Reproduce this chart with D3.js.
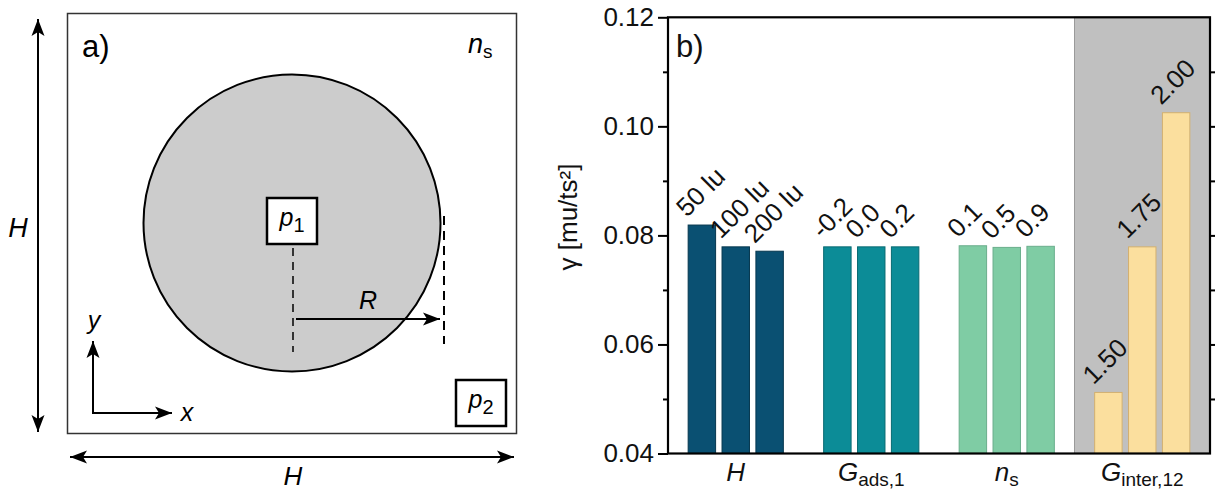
<!DOCTYPE html>
<html>
<head>
<meta charset="utf-8">
<script src="https://cdn.jsdelivr.net/npm/d3@7"></script>
<style>
  body { margin: 0; background: #fff; }
  svg { display: block; font-family: "Liberation Sans", Arial, sans-serif; }
</style>
</head>
<body>
<svg id="fig" width="1222" height="491"></svg>
<script>
// ---- data: surface tension γ for each parameter sweep ----
const groupNames = ["H", "G", "n", "G"];
const groupSubs = ["", "ads,1", "s", "inter,12"];
const hLabels = ["50 lu", "100 lu", "200 lu"];
const hValues = [0.0819, 0.0779, 0.0771];
const gadsLabels = ["-0.2", "0.0", "0.2"];
const gadsValues = [0.0779, 0.0779, 0.0779];
const nsLabels = ["0.1", "0.5", "0.9"];
const nsValues = [0.0781, 0.0778, 0.0780];
const ginterLabels = ["1.50", "1.75", "2.00"];
const ginterValues = [0.0512, 0.0779, 0.1025];
const groupColors = ["#0a5072", "#0c8c97", "#7fcca4", "#fbdf9e"];
const groupStrokes = ["#06374f", "#086a72", "#6aae8c", "#d2b070"];
const yTickLabels = [0.04, 0.06, 0.08, 0.10, 0.12];
const yMinorTicks = [0.05, 0.07, 0.09, 0.11];
const yRightTicks = [0.05, 0.06, 0.07, 0.08, 0.09, 0.10, 0.11];

const svg = d3.select("#fig");

// ================= panel a: simulation box schematic =================
const A = svg.append("g");
const defs = svg.append("defs");
defs.append("marker")
  .attr("id", "head").attr("viewBox", "-18 -8 20 16")
  .attr("refX", 0).attr("refY", 0)
  .attr("markerWidth", 20).attr("markerHeight", 16)
  .attr("markerUnits", "userSpaceOnUse").attr("orient", "auto-start-reverse")
  .append("path").attr("d", "M0,0 L-17,-6.5 L-13,0 L-17,6.5 Z").attr("fill", "#000");

// box frame
A.append("rect").attr("x", 67.5).attr("y", 13.5).attr("width", 449).attr("height", 420)
  .attr("fill", "none").attr("stroke", "#333").attr("stroke-width", 1.5);

// droplet
A.append("circle").attr("cx", 292).attr("cy", 223).attr("r", 148.5)
  .attr("fill", "#cccccc").attr("stroke", "#000").attr("stroke-width", 2);

// dashed guides
A.append("line").attr("x1", 293).attr("x2", 293).attr("y1", 248).attr("y2", 352)
  .attr("stroke", "#000").attr("stroke-width", 1.5).attr("stroke-dasharray", "8,6");
A.append("line").attr("x1", 444).attr("x2", 444).attr("y1", 216).attr("y2", 344)
  .attr("stroke", "#000").attr("stroke-width", 2).attr("stroke-dasharray", "9,6");

// radius arrow
A.append("line").attr("x1", 296).attr("x2", 440).attr("y1", 319).attr("y2", 319)
  .attr("stroke", "#000").attr("stroke-width", 2).attr("marker-end", "url(#head)");
A.append("text").attr("x", 368).attr("y", 309).attr("text-anchor", "middle")
  .attr("font-size", 25).attr("font-style", "italic").text("R");

// pressure probes
function probe(px, py, sub) {
  A.append("rect").attr("x", px).attr("y", py).attr("width", 50).attr("height", 46)
    .attr("fill", "#fff").attr("stroke", "#000").attr("stroke-width", 2.5);
  const t = A.append("text").attr("x", px + 25).attr("y", py + 28)
    .attr("text-anchor", "middle").attr("font-size", 25);
  t.append("tspan").attr("font-style", "italic").text("p");
  t.append("tspan").attr("dy", 6).attr("font-size", 20).text(sub);
}
probe(267, 198, "1");
probe(456, 380, "2");

// coordinate axes
A.append("line").attr("x1", 93).attr("x2", 93).attr("y1", 414).attr("y2", 341)
  .attr("stroke", "#000").attr("stroke-width", 2).attr("marker-end", "url(#head)");
A.append("line").attr("x1", 92).attr("x2", 172).attr("y1", 413).attr("y2", 413)
  .attr("stroke", "#000").attr("stroke-width", 2).attr("marker-end", "url(#head)");
A.append("text").attr("x", 94).attr("y", 329).attr("text-anchor", "middle")
  .attr("font-size", 25).attr("font-style", "italic").text("y");
A.append("text").attr("x", 187).attr("y", 421).attr("text-anchor", "middle")
  .attr("font-size", 25).attr("font-style", "italic").text("x");

// box size arrows
A.append("line").attr("x1", 38).attr("x2", 38).attr("y1", 19).attr("y2", 432)
  .attr("stroke", "#000").attr("stroke-width", 2)
  .attr("marker-start", "url(#head)").attr("marker-end", "url(#head)");
A.append("line").attr("x1", 70).attr("x2", 514).attr("y1", 457).attr("y2", 457)
  .attr("stroke", "#000").attr("stroke-width", 2)
  .attr("marker-start", "url(#head)").attr("marker-end", "url(#head)");
A.append("text").attr("x", 18).attr("y", 237).attr("text-anchor", "middle")
  .attr("font-size", 27).attr("font-style", "italic").text("H");
A.append("text").attr("x", 293).attr("y", 485).attr("text-anchor", "middle")
  .attr("font-size", 26).attr("font-style", "italic").text("H");

A.append("text").attr("x", 82).attr("y", 57).attr("font-size", 31).text("a)");
const nsT = A.append("text").attr("x", 468).attr("y", 53).attr("font-size", 27);
nsT.append("tspan").attr("font-style", "italic").text("n");
nsT.append("tspan").attr("dy", 5).attr("font-size", 19).text("s");

// ================= panel b: bar chart =================
const plotLeft = 668, plotRight = 1210, plotTop = 17.3, plotBottom = 453.5;
const x = d3.scaleLinear().domain([0, 16]).range([plotLeft, plotRight]);
const y = d3.scaleLinear().domain([0.04, 0.12]).range([plotBottom, plotTop]);
const slot = x(1) - x(0);
const barW = slot * 0.81;

const series = [
  { labels: hLabels, values: hValues },
  { labels: gadsLabels, values: gadsValues },
  { labels: nsLabels, values: nsValues },
  { labels: ginterLabels, values: ginterValues }
];
const bars = [];
series.forEach((s, g) => s.values.forEach((v, i) =>
  bars.push({ g, pos: g * 4 + i + 1, value: v, label: s.labels[i] })));

const B = svg.append("g");

// shaded background for the interaction-strength sweep
B.append("rect").attr("x", x(12)).attr("y", y(0.12))
  .attr("width", x(16) - x(12)).attr("height", y(0.04) - y(0.12))
  .attr("fill", "#c0c0c0").attr("stroke", "#9a9a9a").attr("stroke-width", 1);

B.selectAll("rect.bar").data(bars).join("rect").attr("class", "bar")
  .attr("x", d => x(d.pos) - barW / 2)
  .attr("y", d => y(d.value))
  .attr("width", barW)
  .attr("height", d => y(0.04) - y(d.value))
  .attr("fill", d => groupColors[d.g])
  .attr("stroke", d => groupStrokes[d.g]).attr("stroke-width", 1);

B.selectAll("text.val").data(bars).join("text").attr("class", "val")
  .attr("transform", d => `translate(${x(d.pos) - 15},${y(d.value) - 7}) rotate(-45)`)
  .attr("font-size", 26).attr("fill", "#111").text(d => d.label);

// axes
const yLeft = d3.axisLeft(y).tickValues(yTickLabels).tickFormat(d3.format(".2f"))
  .tickSize(10).tickPadding(4);
const gl = B.append("g").attr("transform", `translate(${plotLeft},0)`).call(yLeft);
gl.select(".domain").remove();
gl.selectAll(".tick line").attr("stroke-width", 2);
gl.selectAll(".tick text").attr("font-size", 26).attr("fill", "#111")
  .attr("font-family", "Liberation Sans, Arial, sans-serif");

const yMinor = d3.axisLeft(y).tickValues(yMinorTicks).tickSize(5).tickFormat("");
const gm = B.append("g").attr("transform", `translate(${plotLeft},0)`).call(yMinor);
gm.select(".domain").remove();
gm.selectAll(".tick line").attr("stroke-width", 2);

const yRight = d3.axisRight(y).tickValues(yRightTicks).tickSize(5).tickFormat("");
const gr = B.append("g").attr("transform", `translate(${plotRight},0)`).call(yRight);
gr.select(".domain").remove();
gr.selectAll(".tick line").attr("stroke-width", 2);

// frame
B.append("rect").attr("x", plotLeft).attr("y", plotTop)
  .attr("width", plotRight - plotLeft).attr("height", plotBottom - plotTop)
  .attr("fill", "none").attr("stroke", "#000").attr("stroke-width", 2.2);

// category labels
groupNames.forEach((name, g) => {
  const t = B.append("text").attr("x", x(g * 4 + 2)).attr("y", 481)
    .attr("text-anchor", "middle").attr("font-size", 26).attr("fill", "#111");
  t.append("tspan").attr("font-style", "italic").text(name);
  if (groupSubs[g]) t.append("tspan").attr("dy", 5).attr("font-size", 19).text(groupSubs[g]);
});

B.append("text").attr("x", 676).attr("y", 57).attr("font-size", 31).attr("fill", "#111").text("b)");

B.append("text").attr("transform", `translate(577,217) rotate(-90)`)
  .attr("text-anchor", "middle").attr("font-size", 26).attr("fill", "#111")
  .text("γ [mu/ts²]");
</script>
</body>
</html>
